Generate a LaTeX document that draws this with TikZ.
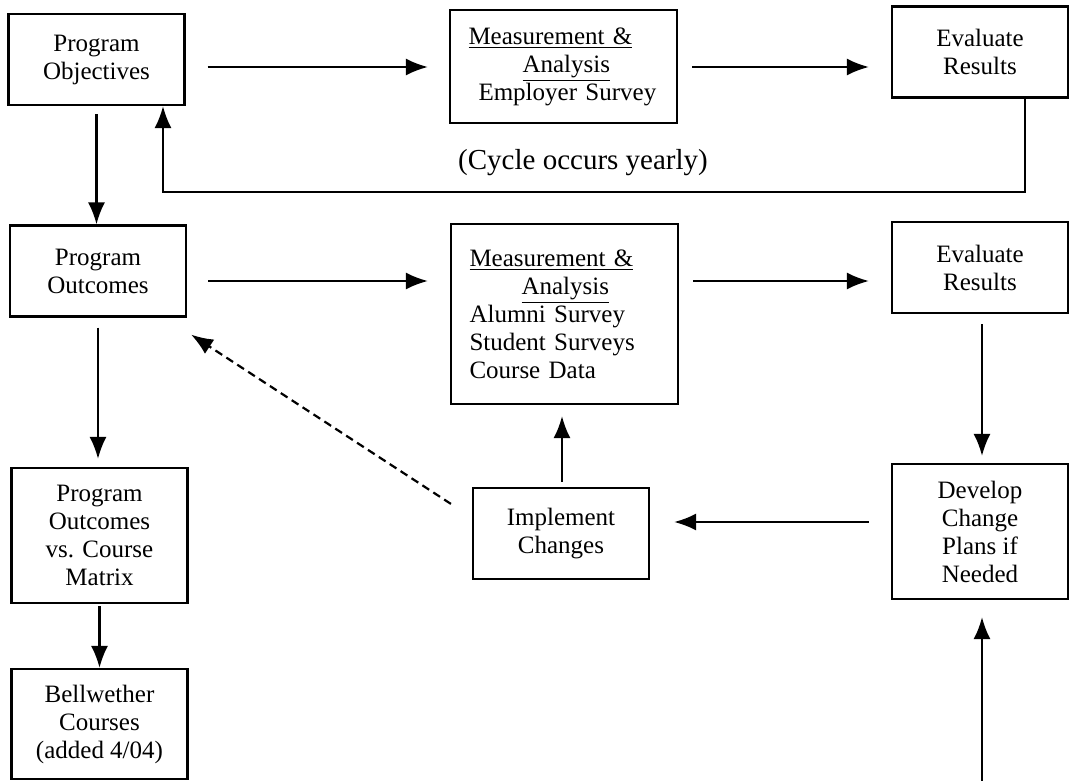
\documentclass[tikz,border=0pt]{standalone}
\usepackage{fontspec}
\setmainfont{Liberation Serif}
\usetikzlibrary{positioning}
\usetikzlibrary{calc}
\usetikzlibrary{arrows.meta}
\tikzset{>={Latex[length=11pt,width=8.5pt]}}
\tikzset{stage/.style={rectangle, draw, line width=1.1pt, minimum width=88pt, minimum height=45.5pt, align=center, font=\fontsize{12.5}{14}\selectfont}}
\tikzset{measure/.style={stage, align=left, text width=95pt, inner xsep=9.25pt}}
\tikzset{flow/.style={->, line width=1.1pt}}
\tikzset{note/.style={font=\fontsize{14.5}{16}\selectfont}}

\begin{document}
\begin{tikzpicture}[x=0.5pt, y=-0.5pt]
    \useasboundingbox (0,0) rectangle (1086,781);

    % Top row: objectives cycle.
    \node [stage] (po) at (96.5,59.5) {Program\\Objectives};
    \node [measure, minimum height=56.5pt] (meas1) at (563.5,66.5)
        {\underline{Measurement \&}\\\hspace*{27pt}\underline{Analysis}\\\hspace*{5pt}Employer Survey};
    \node [stage] (eval1) at (980,52) {Evaluate\\Results};

    % Middle row: outcomes cycle.
    \node [stage] (pout) at (98,271) {Program\\Outcomes};
    \node [measure, minimum height=90pt] (meas2) at (564.5,314)
        {\underline{Measurement \&}\\\hspace*{26pt}\underline{Analysis}\\Alumni Survey\\Student Surveys\\Course Data};
    \node [stage] (eval2) at (980,267.5) {Evaluate\\Results};

    % Lower rows.
    \node [stage, minimum height=67.5pt] (matrix) at (99.5,535.5) {Program\\Outcomes\\vs. Course\\Matrix};
    \node [stage] (impl) at (561,533.5) {Implement\\Changes};
    \node [stage, minimum height=67.5pt] (develop) at (980,531.5) {Develop\\Change\\Plans if\\Needed};
    \node [stage, minimum height=55pt] (bell) at (99.5,724) {Bellwether\\Courses\\(added 4/04)};

    \coordinate (r1) at (0,67);
    \coordinate (r2) at (0,281);
    \coordinate (r3) at (0,522);
    \coordinate (base) at (982,781);

    \draw [flow] ($(r1 -| po.east)+(22,0)$) -- ($(r1 -| meas1.west)+(-21,0)$);
    \draw [flow] ($(r1 -| meas1.east)+(14,0)$) -- ($(r1 -| eval1.west)+(-22,0)$);

    % The yearly feedback loop.
    \draw [flow] ([xshift=22.5pt]eval1.south) -- ++(0,93) -| ([xshift=33.25pt]po.south);
    \node [note] (cyclenote) at (583,163) {(Cycle occurs yearly)};

    \draw [flow, shorten <=4pt] (po.south) -- (po.south |- pout.north);
    \draw [flow] ($(r2 -| pout.east)+(21,0)$) -- ($(r2 -| meas2.west)+(-22,0)$);
    \draw [flow] ($(r2 -| meas2.east)+(14,0)$) -- ($(r2 -| eval2.west)+(-22,0)$);
    \draw [flow, shorten <=5pt, shorten >=3.5pt] ([xshift=1pt]eval2.south) -- ([xshift=1pt]develop.north);
    \draw [flow] ($(r3 -| develop.west)+(-22,0)$) -- ($(r3 -| impl.east)+(24,0)$);
    \draw [flow, shorten <=2.5pt, shorten >=5.5pt] ([xshift=0.5pt]impl.north) -- ([xshift=0.5pt]impl.north |- meas2.south);
    \draw [flow, dash pattern=on 4pt off 2.5pt] ($(impl.north west)+(-21,17)$) -- ($(pout.south east)+(4,17)$);

    \draw [flow, shorten <=5pt, shorten >=4pt] (pout.south) -- (pout.south |- matrix.north);
    \draw [flow, shorten <=1pt] (matrix.south) -- (bell.north);
    \draw [flow, shorten >=8.5pt] (base) -- (base |- develop.south);
\end{tikzpicture}
\end{document}
